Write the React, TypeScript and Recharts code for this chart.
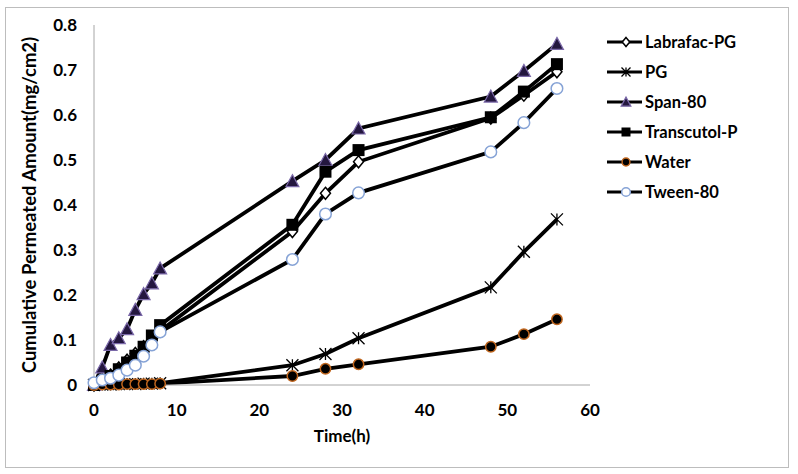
import React from "react";
import { LineChart, Line, XAxis, YAxis } from "recharts";

// sampling times (h) and cumulative permeated amount (mg/cm2)
const times = [0, 1, 2, 3, 4, 5, 6, 7, 8, 24, 28, 32, 48, 52, 56];
const labrafac = [0, 0.012, 0.022, 0.038, 0.055, 0.07, 0.085, 0.1, 0.12, 0.341, 0.426, 0.496, 0.593, 0.644, 0.696];
const pg = [0, 0.001, 0.001, 0.002, 0.002, 0.002, 0.003, 0.003, 0.004, 0.044, 0.069, 0.104, 0.217, 0.296, 0.368];
const span80 = [0, 0.039, 0.089, 0.104, 0.124, 0.167, 0.202, 0.226, 0.259, 0.453, 0.5, 0.57, 0.641, 0.698, 0.758];
const transcutol = [0, 0.01, 0.02, 0.035, 0.05, 0.065, 0.085, 0.11, 0.133, 0.356, 0.474, 0.522, 0.595, 0.652, 0.713];
const water = [0, 0.001, 0.001, 0.001, 0.002, 0.002, 0.002, 0.002, 0.003, 0.02, 0.036, 0.046, 0.085, 0.113, 0.146];
const tween80 = [0.005, 0.011, 0.015, 0.022, 0.033, 0.044, 0.064, 0.089, 0.118, 0.279, 0.38, 0.427, 0.518, 0.583, 0.659];

const xTicks = [0, 10, 20, 30, 40, 50, 60];
const yTicks = [0, 0.1, 0.2, 0.3, 0.4, 0.5, 0.6, 0.7, 0.8];

const data = times.map((t, i) => ({
  t,
  labrafac: labrafac[i],
  pg: pg[i],
  span80: span80[i],
  transcutol: transcutol[i],
  water: water[i],
  tween80: tween80[i],
}));

const FONT = "Lato, 'Open Sans', sans-serif";

type M = { cx: number; cy: number; s?: number };

const Diamond = ({ cx, cy, s = 1 }: M) => (
  <path
    d={`M${cx},${cy - 6 * s}L${cx + 5 * s},${cy}L${cx},${cy + 6 * s}L${cx - 5 * s},${cy}Z`}
    fill="#fff"
    stroke="#000"
    strokeWidth={1.5}
  />
);
const Star = ({ cx, cy, s = 1 }: M) => {
  const r = 6 * s;
  return (
    <path
      d={`M${cx - r},${cy - r}L${cx + r},${cy + r}M${cx - r},${cy + r}L${cx + r},${cy - r}M${cx},${cy - r}L${cx},${cy + r}`}
      stroke="#000"
      strokeWidth={1.3}
      fill="none"
    />
  );
};
const Tri = ({ cx, cy, s = 1 }: M) => (
  <path
    d={`M${cx},${cy - 6.5 * s}L${cx + 6.5 * s},${cy + 5.5 * s}L${cx - 6.5 * s},${cy + 5.5 * s}Z`}
    fill="#24173f"
    stroke="#7a68a8"
    strokeWidth={1.2}
  />
);
const Square = ({ cx, cy, s = 1 }: M) => (
  <rect x={cx - 6 * s} y={cy - 6 * s} width={12 * s} height={12 * s} fill="#000" />
);
const WaterDot = ({ cx, cy, s = 1 }: M) => (
  <circle cx={cx} cy={cy} r={5.2 * s} fill="#000" stroke="#c0661e" strokeWidth={1.5} />
);
const TweenDot = ({ cx, cy, s = 1 }: M) => (
  <circle cx={cx} cy={cy} r={5.8 * s} fill="#fff" stroke="#86a3d6" strokeWidth={1.5} />
);

const series = [
  { key: "labrafac", name: "Labrafac-PG", Mark: Diamond },
  { key: "pg", name: "PG", Mark: Star },
  { key: "span80", name: "Span-80", Mark: Tri },
  { key: "transcutol", name: "Transcutol-P", Mark: Square },
  { key: "water", name: "Water", Mark: WaterDot },
  { key: "tween80", name: "Tween-80", Mark: TweenDot },
];

const tickStyle = { fill: "#000", fontSize: 17, fontWeight: 700, fontFamily: FONT };

export default function App() {
  return (
    <div style={{ position: "absolute", left: 0, top: 0, width: 798, height: 474, background: "#fff" }}>
      <div
        style={{
          position: "absolute",
          left: 5,
          top: 7,
          width: 782,
          height: 459,
          border: "1px solid #bdbdbd",
        }}
      />
      <div style={{ position: "absolute", left: 0, top: 0 }}>
        <LineChart width={798} height={474} data={data} margin={{ top: 25, right: 208, left: 0, bottom: 49 }}>
          <XAxis
            dataKey="t"
            type="number"
            domain={[0, 60]}
            ticks={xTicks}
            tickLine={false}
            tickMargin={13}
            axisLine={{ stroke: "#a6a6a6" }}
            tick={tickStyle}
            height={40}
            label={{ value: "Time(h)", position: "insideBottom", offset: -17, style: { ...tickStyle, fontSize: 17 } }}
          />
          <YAxis
            type="number"
            domain={[0, 0.8]}
            ticks={yTicks}
            width={94}
            tickLine={false}
            tickMargin={11}
            axisLine={{ stroke: "#a6a6a6" }}
            tick={tickStyle}
            tickFormatter={(v: number) => (v === 0 ? "0" : v.toFixed(1))}
            label={{
              value: "Cumulative Permeated Amount(mg/cm2)",
              angle: -90,
              position: "insideLeft",
              offset: 29,
              style: { ...tickStyle, fontSize: 18.5, textAnchor: "middle" },
            }}
          />
          {series.map(({ key, name, Mark }) => (
            <Line
              key={key}
              dataKey={key}
              name={name}
              stroke="#000"
              strokeWidth={3.8}
              isAnimationActive={false}
              dot={(p: any) => <Mark key={`${key}-${p.index}`} cx={p.cx} cy={p.cy} />}
              activeDot={false}
            />
          ))}
        </LineChart>
      </div>
      <svg style={{ position: "absolute", left: 600, top: 20 }} width={190} height={200}>
        {series.map(({ key, name, Mark }, i) => {
          const y = 22 + i * 30;
          return (
            <g key={key}>
              <line x1={7} x2={42} y1={y} y2={y} stroke="#000" strokeWidth={3} />
              <Mark cx={26} cy={y} s={0.75} />
              <text x={45} y={y + 6} style={{ ...tickStyle, fontSize: 16.5 }}>
                {name}
              </text>
            </g>
          );
        })}
      </svg>
    </div>
  );
}
